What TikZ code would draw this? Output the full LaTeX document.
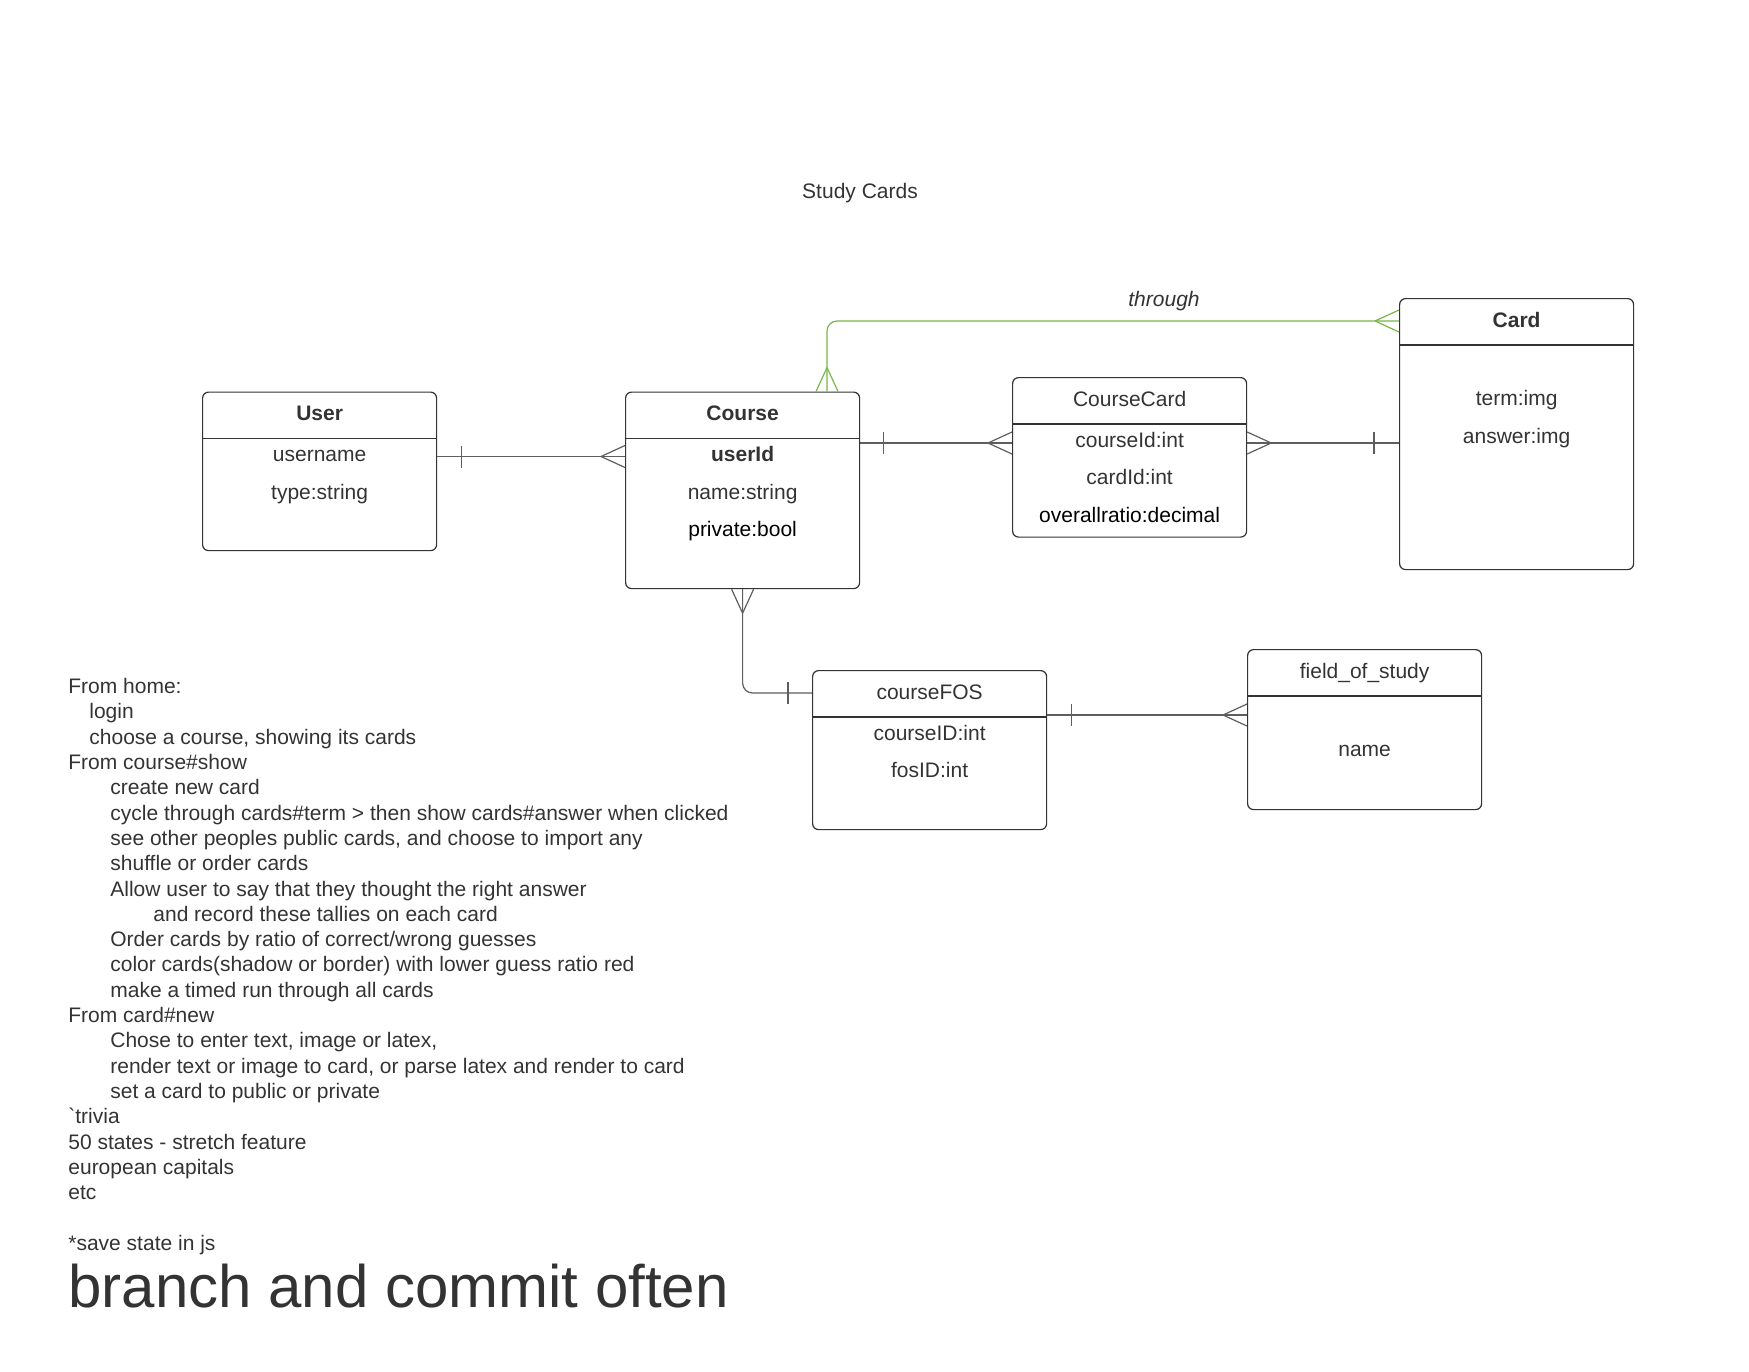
\documentclass[tikz,border=0pt]{standalone}
\usepackage{fontspec}
\setmainfont{Liberation Sans}
\usetikzlibrary{positioning}

\definecolor{inkgray}{HTML}{333333}
\definecolor{linegray}{HTML}{5E5E5E}
\definecolor{relgreen}{HTML}{7AB648}

\newcommand{\erfont}{\fontsize{10.5}{12.65}\selectfont}

\tikzset{
  entity/.style={draw=inkgray, line width=0.6pt, rounded corners=3pt,
    anchor=north west, minimum width=117pt, inner sep=0pt},
  headline/.style={draw=inkgray, line width=0.6pt},
  efield/.style={anchor=base, text=inkgray, font=\erfont, inner sep=0pt},
  etitle/.style={efield, font=\erfont\bfseries},
  rel/.style={draw=linegray, line width=0.6pt},
  crow/.pic={\draw[pic actions] (-12pt,0) -- (0,5.5pt) (-12pt,0) -- (0,-5.5pt);},
  bar/.pic={\draw[pic actions] (0,-5.5pt) -- (0,5.5pt);},
}

\begin{document}
\begin{tikzpicture}[x=0.5pt, y=-0.5pt]
  \useasboundingbox (0,0) rectangle (1749,1371);

  \node[efield] (title) at (860,198.5) {Study Cards};

  % entities
  \node[entity, minimum height=79.25pt] (user) at (202,391.5) {};
  \node[entity, minimum height=98.25pt] (course) at (625,391.5) {};
  \node[entity, minimum height=79.75pt] (coursecard) at (1012,377) {};
  \node[entity, minimum height=135.5pt] (card) at (1399,298) {};
  \node[entity, minimum height=79.5pt] (coursefos) at (812,670) {};
  \node[entity, minimum height=80pt] (fos) at (1247,649) {};

  \foreach \e in {user,course,coursecard,card,coursefos,fos}
    \draw[headline] ([yshift=-23.5pt]\e.north west) -- ([yshift=-23.5pt]\e.north east);

  % User
  \node[etitle] (user-t) at ([yshift=-14.5pt]user.north) {User};
  \node[efield] (user-1) at ([yshift=-35pt]user.north) {username};
  \node[efield] (user-2) at ([yshift=-53.75pt]user.north) {type:string};

  % Course
  \node[etitle] (course-t) at ([yshift=-14.5pt]course.north) {Course};
  \node[etitle] (course-1) at ([yshift=-35pt]course.north) {userId};
  \node[efield] (course-2) at ([yshift=-53.75pt]course.north) {name:string};
  \node[efield, text=black] (course-3) at ([yshift=-72.5pt]course.north) {private:bool};

  % CourseCard
  \node[efield] (coursecard-t) at ([yshift=-14.5pt]coursecard.north) {CourseCard};
  \node[efield] (coursecard-1) at ([yshift=-35pt]coursecard.north) {courseId:int};
  \node[efield] (coursecard-2) at ([yshift=-53.75pt]coursecard.north) {cardId:int};
  \node[efield, text=black] (coursecard-3) at ([yshift=-72.5pt]coursecard.north) {overallratio:decimal};

  % Card
  \node[etitle] (card-t) at ([yshift=-14.5pt]card.north) {Card};
  \node[efield] (card-1) at ([yshift=-53.75pt]card.north) {term:img};
  \node[efield] (card-2) at ([yshift=-72.5pt]card.north) {answer:img};

  % courseFOS
  \node[efield] (coursefos-t) at ([yshift=-14.5pt]coursefos.north) {courseFOS};
  \node[efield] (coursefos-1) at ([yshift=-35pt]coursefos.north) {courseID:int};
  \node[efield] (coursefos-2) at ([yshift=-53.75pt]coursefos.north) {fosID:int};

  % field_of_study
  \node[efield] (fos-t) at ([yshift=-14.5pt]fos.north) {field\_of\_study};
  \node[efield] (fos-1) at ([yshift=-53.75pt]fos.north) {name};

  % relations
  \coordinate (userrow) at ([yshift=-32.5pt]user.north east);
  \draw[rel] (userrow) -- (course.west |- userrow);
  \pic[rel] at ([xshift=12pt]userrow) {bar};
  \pic[rel] at (course.west |- userrow) {crow};

  \coordinate (cardrow) at ([yshift=-25.75pt]course.north east);
  \draw[rel] (cardrow) -- (coursecard.west |- cardrow);
  \pic[rel] at ([xshift=11.5pt]cardrow) {bar};
  \pic[rel] at (coursecard.west |- cardrow) {crow};
  \draw[rel] (coursecard.east |- cardrow) -- (card.west |- cardrow);
  \pic[rel, rotate=180] at (coursecard.east |- cardrow) {crow};
  \pic[rel] at ([xshift=-12.5pt]card.west |- cardrow) {bar};

  \coordinate (thrustart) at ([xshift=101pt]course.north west);
  \coordinate (thruend) at ([yshift=-11.5pt]card.north west);
  \draw[rel, draw=relgreen, rounded corners=5pt] (thrustart) |- (thruend);
  \pic[rel, draw=relgreen, rotate=-90] at (thrustart) {crow};
  \pic[rel, draw=relgreen] at (thruend) {crow};
  \node[efield, font=\erfont\itshape] (thru) at (1164,306) {through};

  \coordinate (fosjoin) at ([yshift=-11.5pt]coursefos.north west);
  \draw[rel, rounded corners=5pt] (course.south) |- (fosjoin);
  \pic[rel, rotate=90] at (course.south) {crow};
  \pic[rel] at ([xshift=-12pt]fosjoin) {bar};

  \coordinate (fosrow) at ([yshift=-22.5pt]coursefos.north east);
  \draw[rel] (fosrow) -- (fos.west |- fosrow);
  \pic[rel] at ([xshift=12pt]fosrow) {bar};
  \pic[rel] at (fos.west |- fosrow) {crow};

  % notes
  \node[anchor=north west, align=left, inner sep=0pt, text=inkgray, font=\erfont] (notes) at (68,678) {%
    From home:\\
    \hspace*{10.5pt}login\\
    \hspace*{10.5pt}choose a course, showing its cards\\
    From course\#show\\
    \hspace*{21pt}create new card\\
    \hspace*{21pt}cycle through cards\#term > then show cards\#answer when clicked\\
    \hspace*{21pt}see other peoples public cards, and choose to import any\\
    \hspace*{21pt}shuffle or order cards\\
    \hspace*{21pt}Allow user to say that they thought the right answer\\
    \hspace*{42.5pt}and record these tallies on each card\\
    \hspace*{21pt}Order cards by ratio of correct/wrong guesses\\
    \hspace*{21pt}color cards(shadow or border) with lower guess ratio red\\
    \hspace*{21pt}make a timed run through all cards\\
    From card\#new\\
    \hspace*{21pt}Chose to enter text, image or latex,\\
    \hspace*{21pt}render text or image to card, or parse latex and render to card\\
    \hspace*{21pt}set a card to public or private\\
    \textasciigrave trivia\\
    50 states - stretch feature\\
    european capitals\\
    etc\\
    \strut\\
    *save state in js};
  \node[anchor=base west, inner sep=0pt, text=inkgray, font=\fontsize{30}{36}\selectfont] (motto) at (68,1307) {branch and commit often};
\end{tikzpicture}
\end{document}
